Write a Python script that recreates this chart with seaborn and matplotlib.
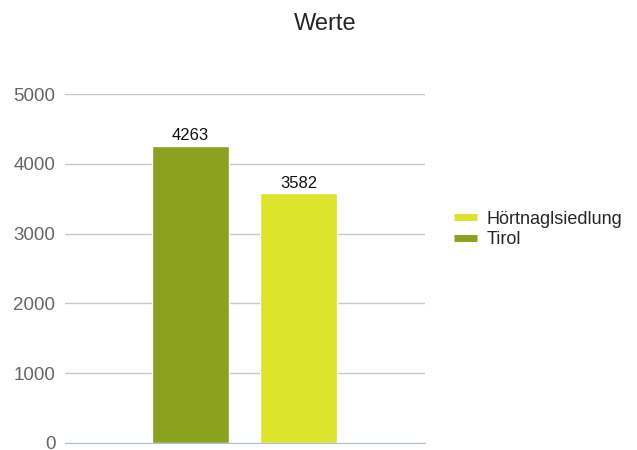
import numpy as np
import pandas as pd
import matplotlib
matplotlib.use("Agg")
import matplotlib.pyplot as plt
import seaborn as sns

series = ["Tirol", "Hörtnaglsiedlung"]
values = [4263, 3582]
colors = ["#8ca120", "#dde32b"]
title = "Werte"


def main():
    sns.set_style("white")
    plt.rcParams["font.family"] = ["Liberation Sans", "DejaVu Sans"]

    df = pd.DataFrame({"serie": series, "wert": values})

    fig = plt.figure(figsize=(6.37, 4.5), dpi=100)
    ax = fig.add_axes([0.102, 0.0156, 0.565, 0.775])

    sns.barplot(data=df, x="serie", y="wert", hue="serie", palette=colors,
                width=0.71, dodge=False, legend=False, ax=ax, saturation=1)

    ax.set_xlim(-1.157, 2.161)
    ax.set_ylim(0, 5000)
    ax.set_yticks(range(0, 5001, 1000))
    ax.set_xticks([])
    ax.set_xlabel("")
    ax.set_ylabel("")
    ax.yaxis.grid(True, color="#c8c8c8", linewidth=1)
    ax.set_axisbelow(True)
    for s in ["top", "right", "left"]:
        ax.spines[s].set_visible(False)
    ax.spines["bottom"].set_color("#a9c2d2")
    ax.tick_params(axis="y", length=0, pad=7, labelsize=13.5, labelcolor="#666666")
    plt.setp(ax.get_yticklabels(), va="center_baseline")

    # Werte über den Balken
    for i, v in enumerate(values):
        ax.text(i, v + 35, str(v), ha="center", va="bottom", fontsize=12, color="#111111")

    handles = [plt.Line2D([], [], color=c, linewidth=5, solid_capstyle="butt") for c in colors]
    ax.legend(handles[::-1], series[::-1], loc="center left", bbox_to_anchor=(1.035, 0.612),
              frameon=False, fontsize=13, handlelength=1.3, handletextpad=0.5,
              labelspacing=0.2)

    fig.suptitle(title, x=0.51, y=0.97, fontsize=17)

    fig.savefig("out.png", dpi=100)


if __name__ == "__main__":
    main()
